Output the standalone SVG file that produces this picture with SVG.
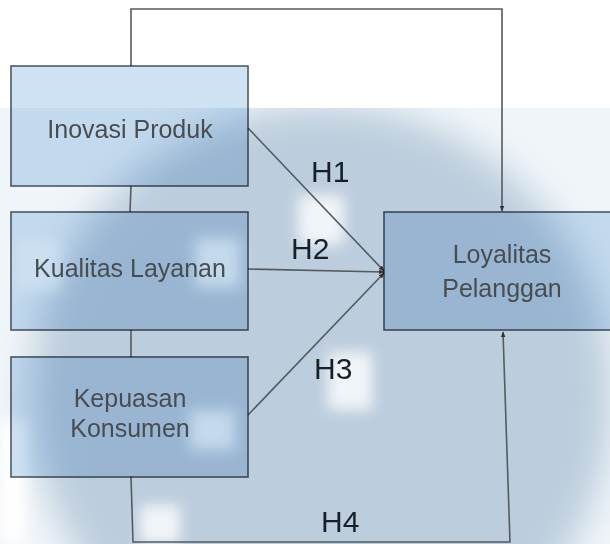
<svg xmlns="http://www.w3.org/2000/svg" width="610" height="544" viewBox="0 0 610 544">
  <defs>
    <filter id="blur" x="-20%" y="-20%" width="140%" height="140%">
      <feGaussianBlur stdDeviation="18"/>
    </filter>
    <filter id="blur2" x="-50%" y="-50%" width="200%" height="200%">
      <feGaussianBlur stdDeviation="7"/>
    </filter>
    <clipPath id="wm">
      <rect x="0" y="108" width="610" height="436"/>
    </clipPath>
    <marker id="arr" viewBox="0 0 10 10" refX="9" refY="5" markerWidth="6" markerHeight="6" orient="auto" markerUnits="userSpaceOnUse">
      <path d="M0,1 L10,5 L0,9 Z" fill="#333"/>
    </marker>
    <style>
      .box { fill: #cfe2f3; stroke: #4f5a63; stroke-width: 1.6; mix-blend-mode: multiply; }
      .lbl { font-family: "Liberation Sans", Arial, sans-serif; font-size: 25px; fill: #484d53; text-anchor: middle; }
      .hyp { font-family: "Liberation Sans", Arial, sans-serif; font-size: 30px; fill: #17202a; }
      .ln { fill: none; stroke: #555b60; stroke-width: 1.6; }
    </style>
  </defs>

  <rect x="0" y="0" width="610" height="544" fill="#ffffff"/>
  <!-- watermark approximation -->
  <g clip-path="url(#wm)">
    <rect x="0" y="108" width="610" height="436" fill="#f0f5f9"/>
    <circle cx="322" cy="396" r="290" fill="#bccddd" filter="url(#blur)"/>
    <g fill="#ffffff" filter="url(#blur2)" opacity="0.8">
      <rect x="298" y="195" width="46" height="50"/>
      <rect x="195" y="238" width="45" height="50"/>
      <rect x="328" y="352" width="44" height="58"/>
      <rect x="140" y="505" width="40" height="39"/>
      <rect x="190" y="410" width="45" height="40"/>
      <rect x="15" y="240" width="45" height="50"/>
    </g>
    <rect x="0" y="420" width="25" height="124" fill="#ffffff" filter="url(#blur2)"/>
  </g>

  <g id="connectors">
    <path class="ln" d="M131,66 V9 H502 V211" marker-end="url(#arr)"/>
    <path class="ln" d="M131,186 L130,212"/>
    <path class="ln" d="M131,330 V357"/>
    <path class="ln" d="M131,477 L133,542 H510 L503,332" marker-end="url(#arr)"/>
    <path class="ln" d="M248,128 L384,271" marker-end="url(#arr)"/>
    <path class="ln" d="M248,269 L384,272" marker-end="url(#arr)"/>
    <path class="ln" d="M248,415 L384,273" marker-end="url(#arr)"/>
    <text class="hyp" x="311" y="182">H1</text>
    <text class="hyp" x="291" y="259">H2</text>
    <text class="hyp" x="314" y="379">H3</text>
    <text class="hyp" x="321" y="532">H4</text>
  </g>

  <g id="inovasi">
    <rect class="box" x="11" y="66" width="237" height="120"/>
    <text class="lbl" x="130" y="138">Inovasi Produk</text>
  </g>
  <g id="kualitas">
    <rect class="box" x="11" y="212" width="237" height="118"/>
    <text class="lbl" x="130" y="277">Kualitas Layanan</text>
  </g>
  <g id="kepuasan">
    <rect class="box" x="11" y="357" width="237" height="120"/>
    <text class="lbl" x="130" y="407">Kepuasan</text>
    <text class="lbl" x="130" y="437">Konsumen</text>
  </g>
  <g id="loyalitas">
    <rect class="box" x="384" y="212" width="232" height="118"/>
    <text class="lbl" x="502" y="263">Loyalitas</text>
    <text class="lbl" x="502" y="297">Pelanggan</text>
  </g>
</svg>
